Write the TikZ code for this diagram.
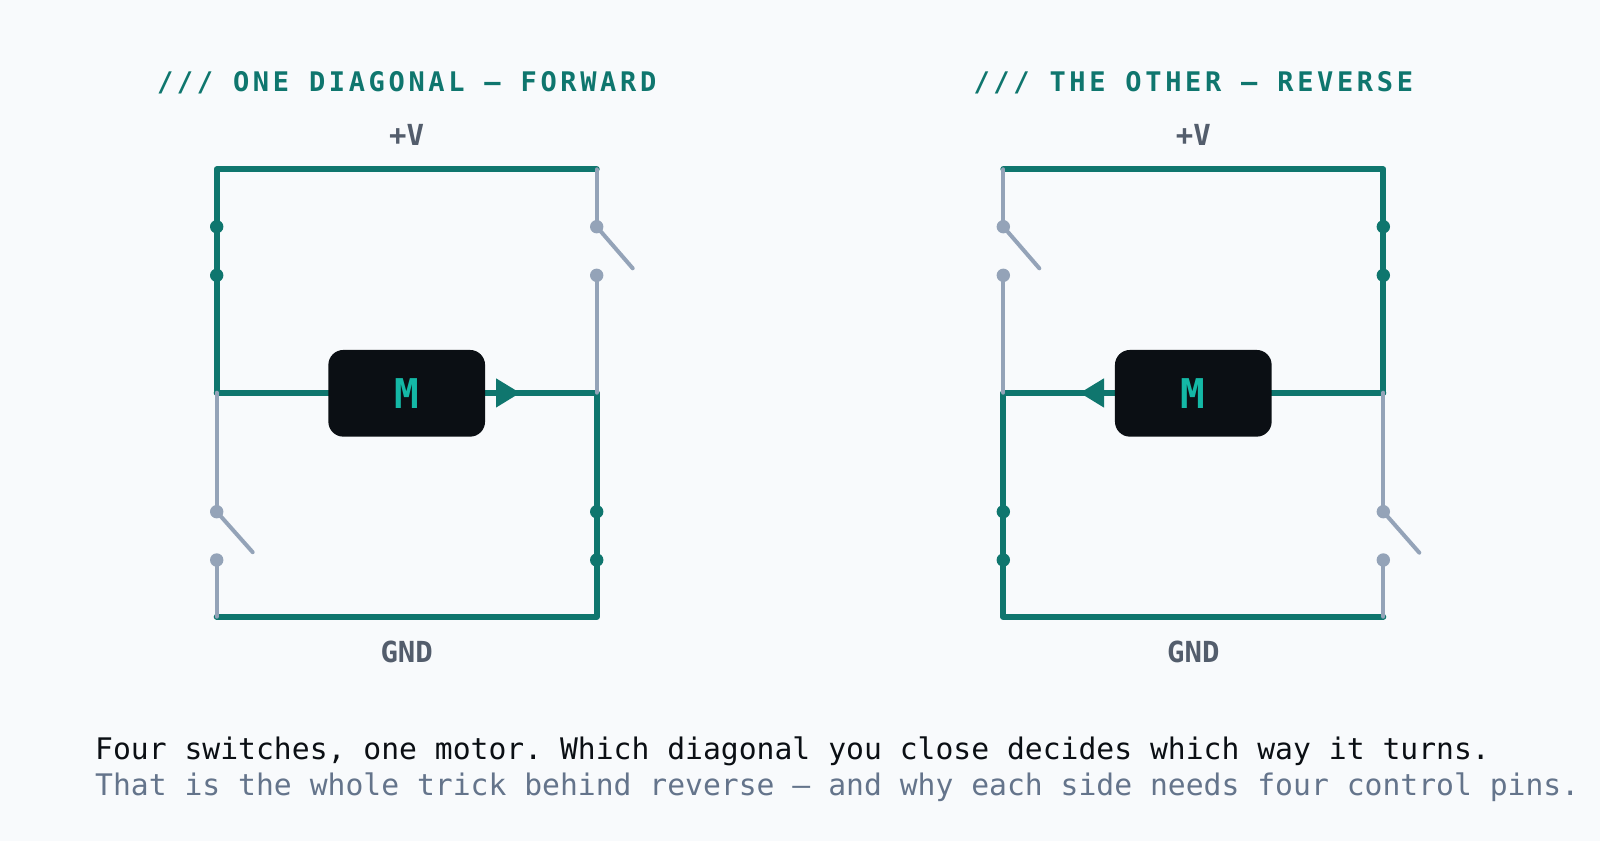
\documentclass[tikz,border=0pt]{standalone}
\usepackage{fontspec}
\setmainfont{DejaVu Sans}
\setmonofont{DejaVu Sans Mono}
\newfontfamily\titlefont[LetterSpace=13.5]{DejaVu Sans Mono}
\definecolor{bgc}{HTML}{F8FAFC}
\definecolor{wgreen}{HTML}{0F766E}
\definecolor{wgray}{HTML}{94A3B8}
\definecolor{lblc}{HTML}{535D6C}
\definecolor{motorc}{HTML}{0B0F14}
\definecolor{mtext}{HTML}{14B8A6}
\definecolor{cap1}{HTML}{0B0F14}
\definecolor{cap2}{HTML}{64748B}
\tikzset{
  onwire/.style={draw=wgreen,line width=6pt,line cap=round,line join=round},
  offwire/.style={draw=wgray,line width=4pt,line cap=round,line join=round},
  ondot/.style={fill=wgreen},
  offdot/.style={fill=wgray},
  motorbox/.style={fill=motorc,rounded corners=15pt,minimum width=156.7pt,minimum height=86.7pt,inner sep=0pt,
    text=mtext,font=\ttfamily\bfseries\fontsize{41}{41}\selectfont},
  titletext/.style={text=wgreen,anchor=base,inner sep=0pt,font=\titlefont\bfseries\fontsize{27}{27}\selectfont},
  raillbl/.style={text=lblc,anchor=base,inner sep=0pt,font=\ttfamily\bfseries\fontsize{29}{29}\selectfont},
  captext/.style={anchor=base west,inner sep=0pt,font=\ttfamily\fontsize{29.7}{29.7}\selectfont},
  arrowfill/.style={fill=wgreen}
}
\begin{document}
\begin{tikzpicture}[x=1pt,y=-1pt]
\fill[bgc] (0,0) rectangle (1600,841);
\useasboundingbox (0,0) rectangle (1600,841);

% titles
\node[titletext] (t1) at (406.7,91) {/// ONE DIAGONAL — FORWARD};
\node[titletext] (t2) at (1193.3,91) {/// THE OTHER — REVERSE};

% ================= LEFT (forward) =================
\begin{scope}[xshift=216.7pt]
\coordinate (aTL) at (0,169.3);
\coordinate (aTR) at (380,169.3);
\coordinate (aML) at (0,392.7);
\coordinate (aMR) at (380,392.7);
\coordinate (aBL) at (0,616.7);
\coordinate (aBR) at (380,616.7);
\coordinate (aS1a) at (0,226.7);
\coordinate (aS1b) at (0,275.3);
\coordinate (aS2a) at (380,226.7);
\coordinate (aS2b) at (380,275.3);
\coordinate (aS3a) at (0,511.7);
\coordinate (aS3b) at (0,560);
\coordinate (aS4a) at (380,511.7);
\coordinate (aS4b) at (380,560);
\coordinate (aBlade2) at (416,268.3);
\coordinate (aBlade3) at (36,552.2);
\node[raillbl] (aV) at (190,145) {+V};
\node[raillbl] (aG) at (190,662.7) {GND};
% closed path wires
\draw[onwire] (aML) -- (aS1b) -- (aS1a) -- (aTL) -- (aTR);
\draw[onwire] (aML) -- (190,392.7);
\draw[onwire] (190,392.7) -- (aMR) -- (aS4a) -- (aS4b) -- (aBR) -- (aBL);
% open path wires
\draw[offwire] (aTR) -- (aS2a);
\draw[offwire] (aS2a) -- (aBlade2);
\draw[offwire] (aS2b) -- (aMR);
\draw[offwire] (aML) -- (aS3a);
\draw[offwire] (aS3a) -- (aBlade3);
\draw[offwire] (aS3b) -- (aBL);
% dots
\fill[ondot] (aS1a) circle (6.7);
\fill[ondot] (aS1b) circle (6.7);
\fill[ondot] (aS4a) circle (6.7);
\fill[ondot] (aS4b) circle (6.7);
\fill[offdot] (aS2a) circle (6.7);
\fill[offdot] (aS2b) circle (6.7);
\fill[offdot] (aS3a) circle (6.7);
\fill[offdot] (aS3b) circle (6.7);
% motor
\node[motorbox] (aM) at (190,393.3) {M};
\fill[arrowfill] (279.3,378.3) -- (303.3,392.9) -- (279.3,407.6) -- cycle;
\end{scope}

% ================= RIGHT (reverse) =================
\begin{scope}[xshift=1003.3pt]
\coordinate (bTL) at (0,169.3);
\coordinate (bTR) at (380,169.3);
\coordinate (bML) at (0,392.7);
\coordinate (bMR) at (380,392.7);
\coordinate (bBL) at (0,616.7);
\coordinate (bBR) at (380,616.7);
\coordinate (bS1a) at (0,226.7);
\coordinate (bS1b) at (0,275.3);
\coordinate (bS2a) at (380,226.7);
\coordinate (bS2b) at (380,275.3);
\coordinate (bS3a) at (0,511.7);
\coordinate (bS3b) at (0,560);
\coordinate (bS4a) at (380,511.7);
\coordinate (bS4b) at (380,560);
\coordinate (bBlade1) at (36,268.3);
\coordinate (bBlade4) at (416,552.7);
\node[raillbl] (bV) at (190,145) {+V};
\node[raillbl] (bG) at (190,662.7) {GND};
% closed path wires
\draw[onwire] (bMR) -- (bS2b) -- (bS2a) -- (bTR) -- (bTL);
\draw[onwire] (bMR) -- (190,392.7);
\draw[onwire] (190,392.7) -- (bML) -- (bS3a) -- (bS3b) -- (bBL) -- (bBR);
% open path wires
\draw[offwire] (bTL) -- (bS1a);
\draw[offwire] (bS1a) -- (bBlade1);
\draw[offwire] (bS1b) -- (bML);
\draw[offwire] (bMR) -- (bS4a);
\draw[offwire] (bS4a) -- (bBlade4);
\draw[offwire] (bS4b) -- (bBR);
% dots
\fill[ondot] (bS2a) circle (6.7);
\fill[ondot] (bS2b) circle (6.7);
\fill[ondot] (bS3a) circle (6.7);
\fill[ondot] (bS3b) circle (6.7);
\fill[offdot] (bS1a) circle (6.7);
\fill[offdot] (bS1b) circle (6.7);
\fill[offdot] (bS4a) circle (6.7);
\fill[offdot] (bS4b) circle (6.7);
% motor
\node[motorbox] (bM) at (190,393.3) {M};
\fill[arrowfill] (100.7,378.3) -- (76.7,392.9) -- (100.7,407.6) -- cycle;
\end{scope}

% caption
\node[captext,text=cap1] (c1) at (95,759.5) {Four switches, one motor. Which diagonal you close decides which way it turns.};
\node[captext,text=cap2] (c2) at (95,795) {That is the whole trick behind reverse — and why each side needs four control pins.};
\end{tikzpicture}
\end{document}
